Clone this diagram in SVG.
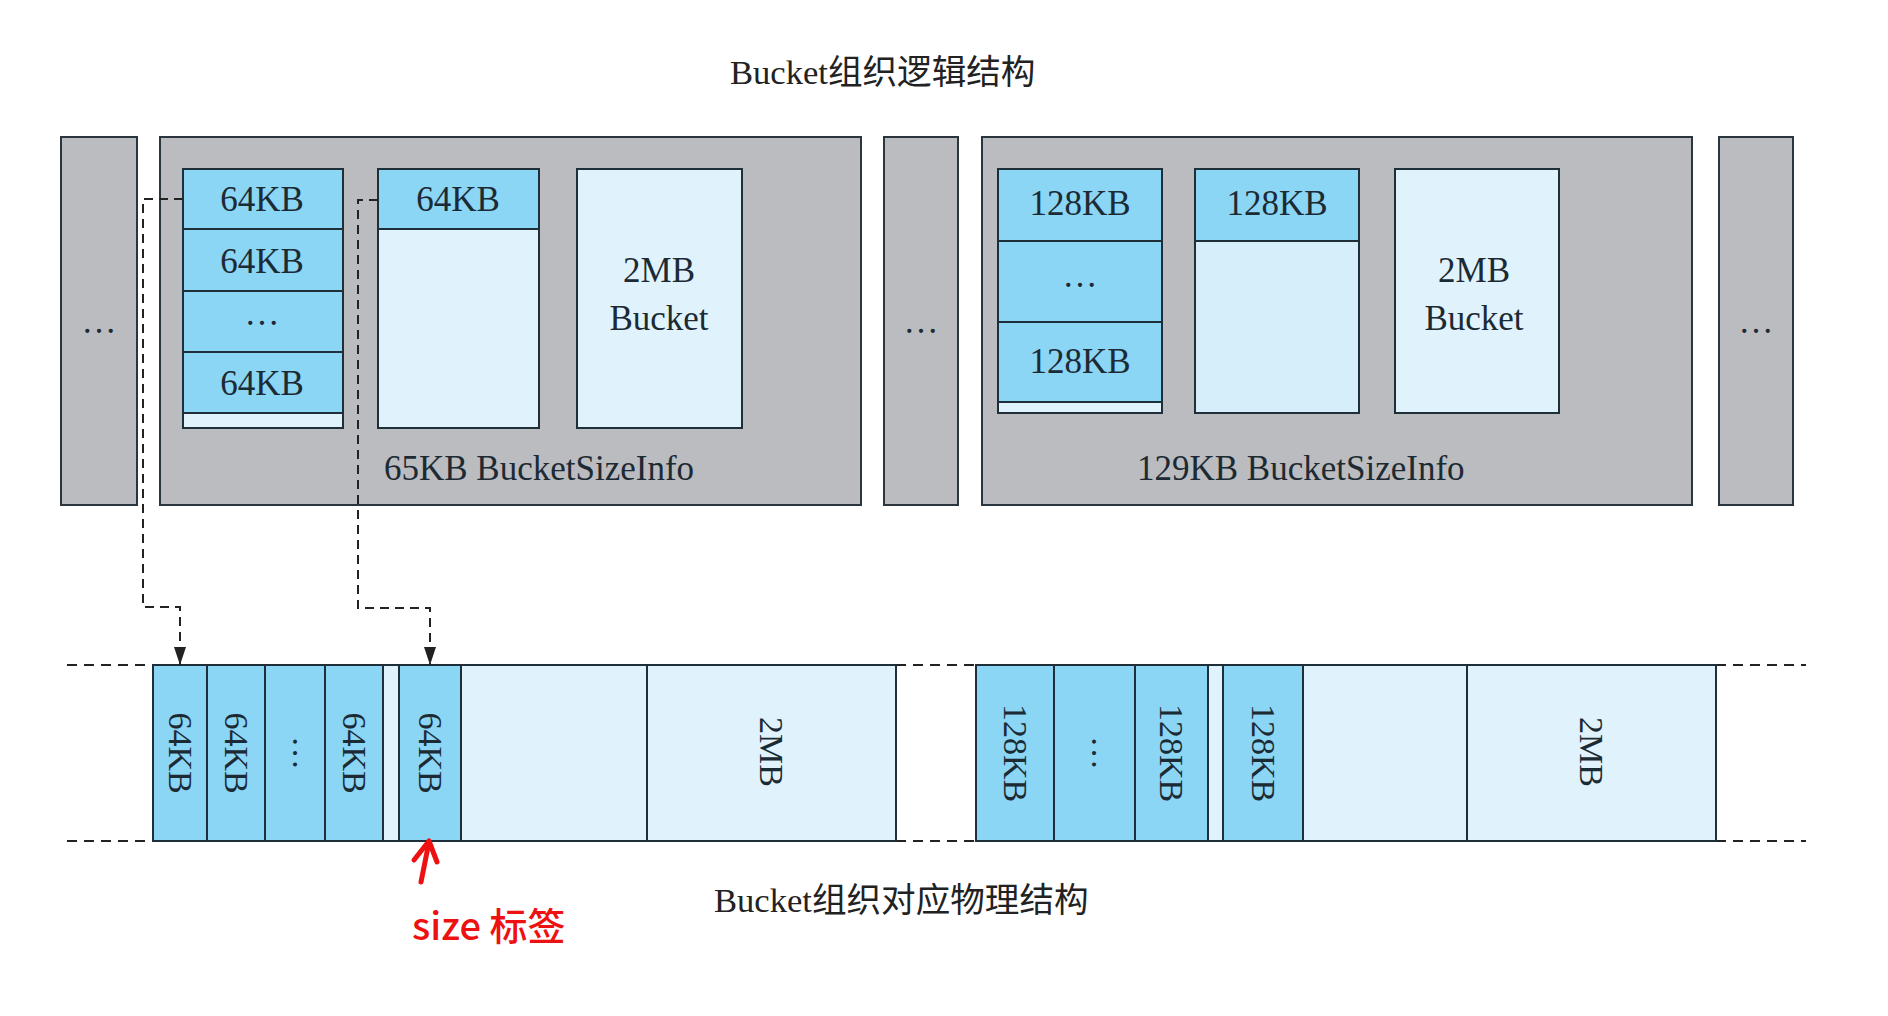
<svg xmlns="http://www.w3.org/2000/svg" width="1888" height="1016" viewBox="0 0 1888 1016">
<style>
.bg{fill:#ffffff}
.gray{fill:#bbbcbf;stroke:#2b353d;stroke-width:2}
.blue{fill:#8bd5f5;stroke:#1f2f3a;stroke-width:2}
.light{fill:#e0f3fd;stroke:#1f2f3a;stroke-width:2}
.light2{fill:#d5eefa;stroke:#1f2f3a;stroke-width:2}
.t{font-family:"Liberation Serif","Noto Sans CJK SC",serif;font-size:35px;fill:#1c2a34}
.r{font-size:34px}
.c{text-anchor:middle}
.title{font-family:"Liberation Serif","Noto Sans CJK SC",serif;font-size:34.6px;fill:#222222}
.dash{fill:none;stroke:#222;stroke-width:2;stroke-dasharray:10 7}
.conn{fill:none;stroke:#222;stroke-width:2;stroke-dasharray:9 6}
.red{fill:none;stroke:#ee1111;stroke-width:5;stroke-linecap:round;stroke-linejoin:round}
.redt{font-family:"Noto Sans CJK SC","Noto Sans",sans-serif;font-size:38px;font-weight:500;fill:#ee1111}
</style>
<defs>
<marker id="ah" markerUnits="userSpaceOnUse" viewBox="0 0 18 12" markerWidth="18" markerHeight="12" refX="18" refY="6" orient="auto">
<path d="M0,0 L18,6 L0,12 z" fill="#222"/>
</marker>
</defs>
<rect class="bg" x="0" y="0" width="1888" height="1016"/>

<text id="title-top" class="title" x="730" y="84">Bucket组织逻辑结构</text>

<g id="left-more">
<rect class="gray" x="61" y="137" width="76" height="368"/>
<text class="t c" x="99" y="333">…</text>
</g>

<g id="bsi-65">
<rect class="gray" x="160" y="137" width="701" height="368"/>
<g id="b65-col1">
<rect class="light" x="183" y="169" width="160" height="259"/>
<rect class="blue" x="183" y="169" width="160" height="60"/>
<rect class="blue" x="183" y="229" width="160" height="62"/>
<rect class="blue" x="183" y="291" width="160" height="61"/>
<rect class="blue" x="183" y="352" width="160" height="61"/>
<text class="t c" x="262" y="211">64KB</text>
<text class="t c" x="262" y="273">64KB</text>
<text class="t c" x="262" y="325">…</text>
<text class="t c" x="262" y="395">64KB</text>
</g>
<g id="b65-col2">
<rect class="light" x="378" y="169" width="161" height="259"/>
<rect class="blue" x="378" y="169" width="161" height="60"/>
<text class="t c" x="458" y="211">64KB</text>
</g>
<g id="b65-2mb">
<rect class="light" x="577" y="169" width="165" height="259"/>
<text class="t c" x="659" y="282">2MB</text>
<text class="t c" x="659" y="330">Bucket</text>
</g>
<text class="t" x="384" y="480">65KB BucketSizeInfo</text>
</g>

<g id="mid-more">
<rect class="gray" x="884" y="137" width="74" height="368"/>
<text class="t c" x="921" y="333">…</text>
</g>

<g id="bsi-129">
<rect class="gray" x="982" y="137" width="710" height="368"/>
<g id="b129-col1">
<rect class="light" x="998" y="169" width="164" height="244"/>
<rect class="blue" x="998" y="169" width="164" height="72"/>
<rect class="blue" x="998" y="241" width="164" height="81"/>
<rect class="blue" x="998" y="322" width="164" height="80"/>
<text class="t c" x="1080" y="215">128KB</text>
<text class="t c" x="1080" y="287">…</text>
<text class="t c" x="1080" y="373">128KB</text>
</g>
<g id="b129-col2">
<rect class="light2" x="1195" y="169" width="164" height="244"/>
<rect class="blue" x="1195" y="169" width="164" height="72"/>
<text class="t c" x="1277" y="215">128KB</text>
</g>
<g id="b129-2mb">
<rect class="light" x="1395" y="169" width="164" height="244"/>
<text class="t c" x="1474" y="282">2MB</text>
<text class="t c" x="1474" y="330">Bucket</text>
</g>
<text class="t" x="1137" y="480">129KB BucketSizeInfo</text>
</g>

<g id="right-more">
<rect class="gray" x="1719" y="137" width="74" height="368"/>
<text class="t c" x="1756" y="333">…</text>
</g>

<g id="guides">
<line class="dash" x1="67" y1="665" x2="153" y2="665"/>
<line class="dash" x1="67" y1="841" x2="153" y2="841"/>
<line class="dash" x1="896" y1="665" x2="976" y2="665"/>
<line class="dash" x1="896" y1="841" x2="976" y2="841"/>
<line class="dash" x1="1716" y1="665" x2="1806" y2="665"/>
<line class="dash" x1="1716" y1="841" x2="1806" y2="841"/>
</g>

<g id="phys-65">
<rect class="blue" x="153" y="665" width="54" height="176"/>
<rect class="blue" x="207" y="665" width="58" height="176"/>
<rect class="blue" x="265" y="665" width="60" height="176"/>
<rect class="blue" x="325" y="665" width="58" height="176"/>
<rect class="light" x="383" y="665" width="16" height="176"/>
<rect class="blue" x="399" y="665" width="62" height="176"/>
<rect class="light" x="461" y="665" width="186" height="176"/>
<rect class="light" x="647" y="665" width="249" height="176"/>
<text class="t r c" transform="translate(180 753) rotate(90)" y="11">64KB</text>
<text class="t r c" transform="translate(236 753) rotate(90)" y="11">64KB</text>
<text class="t r c" transform="translate(295 753) rotate(90)" y="2">…</text>
<text class="t r c" transform="translate(354 753) rotate(90)" y="11">64KB</text>
<text class="t r c" transform="translate(430 753) rotate(90)" y="11">64KB</text>
<text class="t r c" transform="translate(771 752) rotate(90)" y="11">2MB</text>
</g>

<g id="phys-129">
<rect class="blue" x="976" y="665" width="78" height="176"/>
<rect class="blue" x="1054" y="665" width="81" height="176"/>
<rect class="blue" x="1135" y="665" width="73" height="176"/>
<rect class="light" x="1208" y="665" width="15" height="176"/>
<rect class="blue" x="1223" y="665" width="80" height="176"/>
<rect class="light" x="1303" y="665" width="164" height="176"/>
<rect class="light" x="1467" y="665" width="249" height="176"/>
<text class="t r c" transform="translate(1015 753) rotate(90)" y="11">128KB</text>
<text class="t r c" transform="translate(1094 753) rotate(90)" y="2">…</text>
<text class="t r c" transform="translate(1171 753) rotate(90)" y="11">128KB</text>
<text class="t r c" transform="translate(1263 753) rotate(90)" y="11">128KB</text>
<text class="t r c" transform="translate(1591 752) rotate(90)" y="11">2MB</text>
</g>

<g id="connectors">
<path class="conn" d="M183,199 H143 V607 H180 V665" marker-end="url(#ah)"/>
<path class="conn" d="M378,200 H358 V608 H430 V665" marker-end="url(#ah)"/>
</g>

<text id="title-bottom" class="title" x="714" y="912">Bucket组织对应物理结构</text>

<g id="size-tag">
<path class="red" d="M421,882 L429,842"/>
<path class="red" d="M414,860 L429,841 L437,862"/>
<text class="redt" x="412" y="940">size 标签</text>
</g>
</svg>
